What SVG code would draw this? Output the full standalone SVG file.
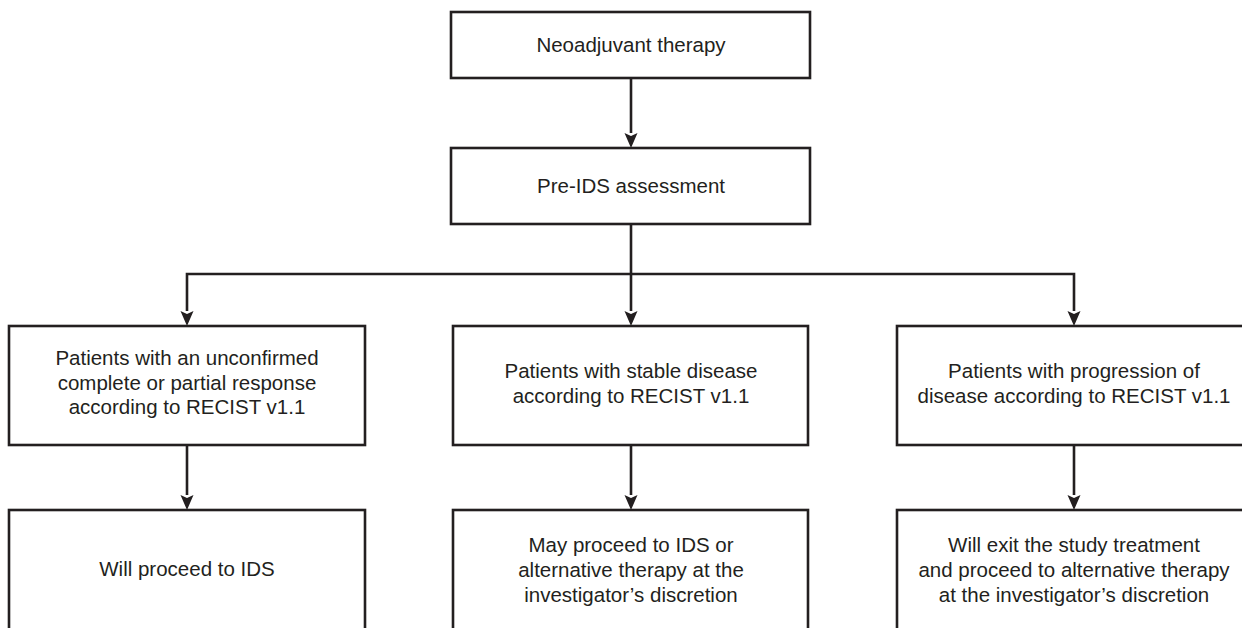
<svg xmlns="http://www.w3.org/2000/svg" width="1242" height="628" viewBox="0 0 1242 628">
<style>
.box{fill:#fff;stroke:#231f20;stroke-width:2.6}
.ln{fill:none;stroke:#231f20;stroke-width:2.6}
text{font-family:"Liberation Sans",Arial,sans-serif;font-size:20.5px;fill:#231f20;text-anchor:middle}
</style>
<defs>
<marker id="ah" markerUnits="userSpaceOnUse" markerWidth="14" markerHeight="16" refX="7" refY="15" orient="auto-start-reverse" viewBox="0 0 14 16">
<path d="M0,0 L7,3 L14,0 L7,16 Z" fill="#231f20" transform="rotate(0)"/>
</marker>
</defs>
<g id="connectors">
<path class="ln" d="M631,78 V133"/>
<path d="M624.5,133 L631,136 L637.5,133 L631,148 Z" fill="#231f20"/>
<path class="ln" d="M631,224 V311"/>
<path d="M624.5,311 L631,314 L637.5,311 L631,326 Z" fill="#231f20"/>
<path class="ln" d="M187,311 V274 H1074 V311"/>
<path d="M180.5,311 L187,314 L193.5,311 L187,326 Z" fill="#231f20"/>
<path d="M1067.5,311 L1074,314 L1080.5,311 L1074,326 Z" fill="#231f20"/>
<path class="ln" d="M187,445 V495"/>
<path d="M180.5,495 L187,498 L193.5,495 L187,510 Z" fill="#231f20"/>
<path class="ln" d="M631,445 V495"/>
<path d="M624.5,495 L631,498 L637.5,495 L631,510 Z" fill="#231f20"/>
<path class="ln" d="M1074,445 V495"/>
<path d="M1067.5,495 L1074,498 L1080.5,495 L1074,510 Z" fill="#231f20"/>
</g>
<g id="n-neoadjuvant">
<rect class="box" x="451" y="12" width="359" height="66"/>
<text x="631" y="52">Neoadjuvant therapy</text>
</g>
<g id="n-preids">
<rect class="box" x="451" y="148" width="359" height="76"/>
<text x="631" y="193">Pre-IDS assessment</text>
</g>
<g id="n-response">
<rect class="box" x="9" y="326" width="356" height="119"/>
<text x="187" y="365">Patients with an unconfirmed</text>
<text x="187" y="389.5">complete or partial response</text>
<text x="187" y="414">according to RECIST v1.1</text>
</g>
<g id="n-stable">
<rect class="box" x="453" y="326" width="355" height="119"/>
<text x="631" y="378">Patients with stable disease</text>
<text x="631" y="403">according to RECIST v1.1</text>
</g>
<g id="n-progression">
<rect class="box" x="897" y="326" width="354" height="119"/>
<text x="1074" y="378">Patients with progression of</text>
<text x="1074" y="403">disease according to RECIST v1.1</text>
</g>
<g id="n-ids">
<rect class="box" x="9" y="510" width="356" height="130"/>
<text x="187" y="576">Will proceed to IDS</text>
</g>
<g id="n-may">
<rect class="box" x="453" y="510" width="355" height="130"/>
<text x="631" y="552">May proceed to IDS or</text>
<text x="631" y="577">alternative therapy at the</text>
<text x="631" y="602">investigator’s discretion</text>
</g>
<g id="n-exit">
<rect class="box" x="897" y="510" width="354" height="130"/>
<text x="1074" y="552">Will exit the study treatment</text>
<text x="1074" y="577">and proceed to alternative therapy</text>
<text x="1074" y="602">at the investigator’s discretion</text>
</g>
</svg>
